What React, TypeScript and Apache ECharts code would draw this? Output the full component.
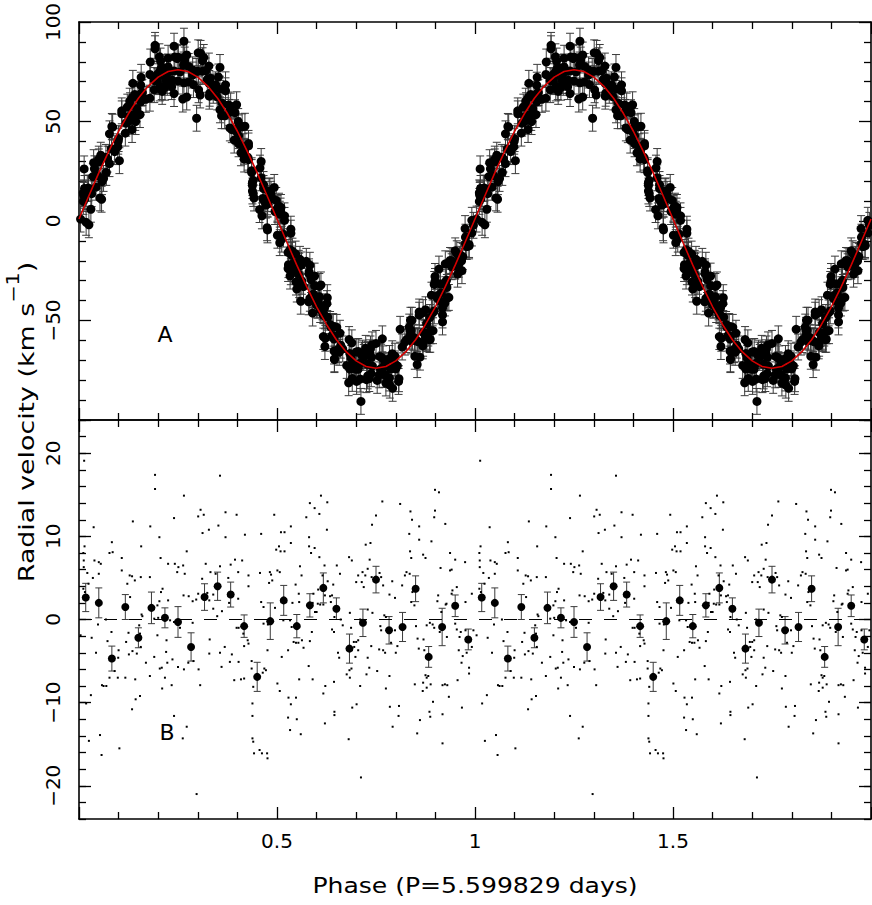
import React, { useEffect, useRef } from "react";
import * as echarts from "echarts";

// ---------------- data ----------------
// Orbital model curve (km/s), sampled every 0.025 in phase over one cycle
const modelStep = 0.025;
const modelVelocity = [
  1.0, 12.7, 24.2, 35.0, 45.1, 54.0, 61.7, 67.8, 72.3, 75.1, 76.0,
  75.1, 72.3, 67.8, 61.7, 54.0, 45.1, 35.0, 24.2, 12.7, 1.0,
  -10.7, -22.2, -33.0, -43.1, -52.0, -59.7, -65.8, -70.3, -73.1, -74.0,
  -73.1, -70.3, -65.8, -59.7, -52.0, -43.1, -33.0, -22.2, -10.7, 1.0,
];
const velocityError = 6.5;

// Observations: [phase, residual (km/s)]
const residuals: [number, number][] = [
  [0.013,19.1],[0.192,17.4],[0.192,15.7],[0.24,12.2],[0.136,11.8],[0.037,11.1],[0.18,11.2],[0.203,9.9],[0.083,9.3],[0.077,8.0],
  [0.085,8.1],[0.014,8.8],[0.011,8.0],[0.157,8.8],[0.108,7.4],[0.206,7.4],[0.012,7.1],[0.039,7.1],[0.05,6.9],[0.055,6.7],
  [0.225,6.7],[0.242,6.7],[0.012,6.3],[0.021,5.6],[0.05,5.5],[0.108,5.9],[0.128,5.3],[0.134,5.2],[0.141,4.7],[0.156,5.1],
  [0.179,5.1],[0.035,5.0],[0.024,4.3],[0.011,3.7],[0.015,3.3],[0.122,4.3],[0.129,2.7],[0.211,3.7],[0.207,3.3],[0.203,2.2],
  [0.198,1.7],[0.158,0.6],[0.16,0.4],[0.225,2.3],[0.19,0.1],[0.2,0.2],[0.221,0.3],[0.23,-0.1],[0.24,-0.3],[0.068,0.0],
  [0.048,-0.6],[0.082,-1.5],[0.032,-2.2],[0.125,-1.6],[0.119,-2.7],[0.152,-0.7],[0.154,-1.7],[0.198,-1.9],[0.221,-2.5],[0.043,-4.0],
  [0.072,-2.6],[0.1,-3.7],[0.099,-4.6],[0.126,-4.2],[0.135,-3.8],[0.146,-4.1],[0.156,-3.3],[0.169,-5.2],[0.19,-4.5],[0.204,-5.9],
  [0.209,-5.8],[0.22,-3.9],[0.223,-5.2],[0.236,-4.8],[0.09,-6.2],[0.077,-7.0],[0.069,-8.0],[0.062,-8.0],[0.058,-7.9],[0.098,-7.0],
  [0.117,-7.0],[0.142,-7.2],[0.179,-6.8],[0.217,-7.0],[0.21,-8.3],[0.234,-7.9],[0.03,-9.1],[0.018,-10.1],[0.154,-9.2],[0.143,-9.6],
  [0.134,-10.8],[0.24,-11.6],[0.053,-13.9],[0.025,-14.6],[0.057,-16.3],[0.102,-15.5],
  [0.356,17.3],[0.265,14.9],[0.307,13.2],[0.301,12.4],[0.315,12.6],[0.37,12.9],[0.398,12.6],[0.352,11.3],[0.328,10.8],[0.312,10.4],
  [0.37,9.9],[0.419,10.2],[0.46,10.3],[0.493,12.6],[0.272,8.2],[0.251,6.3],[0.263,6.5],[0.248,5.7],[0.267,5.5],[0.32,6.7],
  [0.356,6.4],[0.383,6.6],[0.394,7.2],[0.412,7.1],[0.332,5.7],[0.345,5.5],[0.377,5.0],[0.402,5.7],[0.428,5.3],[0.457,5.6],
  [0.482,5.7],[0.485,5.4],[0.48,4.4],[0.488,4.7],[0.311,4.9],[0.301,3.1],[0.324,3.2],[0.339,3.0],[0.329,2.3],[0.339,1.3],
  [0.361,1.0],[0.349,0.4],[0.379,2.0],[0.402,2.5],[0.428,4.0],[0.46,2.1],[0.466,1.5],[0.264,2.9],[0.277,2.8],[0.287,2.2],
  [0.296,2.4],[0.255,-1.0],[0.287,-0.4],[0.398,-1.0],[0.403,-1.0],[0.415,-1.7],[0.426,-2.5],[0.428,-2.9],[0.417,-3.2],[0.466,-0.5],
  [0.477,-0.6],[0.33,-2.4],[0.368,-3.3],[0.356,-4.0],[0.329,-4.1],[0.386,-4.2],[0.403,-5.1],[0.381,-5.1],[0.476,-3.7],[0.25,-5.7],
  [0.265,-6.0],[0.276,-5.2],[0.289,-5.0],[0.302,-6.0],[0.306,-7.9],[0.36,-5.7],[0.392,-7.3],[0.409,-7.2],[0.417,-7.1],[0.436,-5.9],
  [0.436,-5.0],[0.468,-5.9],[0.472,-6.1],[0.464,-6.4],[0.44,-8.1],[0.438,-10.1],[0.438,-11.6],[0.438,-14.3],[0.44,-14.7],[0.442,-16.1],
  [0.456,-15.7],[0.462,-16.1],[0.475,-16.1],[0.476,-16.7],[0.272,-12.9],[0.262,-14.3],[0.297,-21.0],
  [0.611,14.9],[0.583,14.0],[0.627,14.1],[0.595,13.4],[0.607,12.7],[0.574,12.3],[0.535,11.2],[0.626,10.8],[0.51,10.5],[0.519,10.5],
  [0.581,9.9],[0.535,9.2],[0.498,8.4],[0.505,8.8],[0.519,8.2],[0.509,8.2],[0.581,8.8],[0.595,8.6],[0.586,8.0],[0.607,7.5],
  [0.62,6.5],[0.651,6.5],[0.659,5.5],[0.682,7.5],[0.689,7.1],[0.74,11.4],[0.736,9.2],[0.724,9.0],[0.734,7.2],[0.729,6.1],
  [0.739,5.1],[0.723,5.3],[0.714,4.5],[0.7,4.5],[0.705,5.3],[0.716,5.7],[0.719,3.9],[0.501,5.9],[0.507,5.7],[0.495,1.4],
  [0.516,-0.1],[0.533,-0.1],[0.547,4.2],[0.558,6.4],[0.562,5.3],[0.555,3.1],[0.556,2.1],[0.539,2.0],[0.528,-3.7],[0.512,-4.5],
  [0.501,-7.7],[0.507,-8.6],[0.537,-0.9],[0.542,-2.7],[0.548,-2.8],[0.554,-2.8],[0.563,-2.5],[0.567,-3.4],[0.556,-7.2],[0.529,-9.4],
  [0.548,-9.4],[0.535,-10.2],[0.528,-11.8],[0.55,-12.0],[0.533,-13.3],[0.56,-13.8],[0.59,-7.2],[0.58,-5.6],[0.583,-2.6],[0.588,-1.5],
  [0.6,0.9],[0.59,2.0],[0.592,3.1],[0.609,1.8],[0.603,1.9],[0.596,0.9],[0.617,1.8],[0.604,3.6],[0.615,5.3],[0.628,4.6],
  [0.642,4.2],[0.639,2.9],[0.636,2.1],[0.621,2.9],[0.634,2.8],[0.639,-1.2],[0.644,-1.5],[0.654,-4.0],[0.657,-4.6],[0.644,-7.5],
  [0.645,-11.1],[0.645,-11.5],[0.617,-8.9],[0.621,-12.5],[0.622,-8.0],[0.681,-14.4],[0.676,-6.6],[0.684,-7.0],[0.683,-6.1],[0.688,-5.9],
  [0.666,-0.7],[0.687,-1.0],[0.7,-2.7],[0.705,-2.5],[0.694,-2.7],[0.71,-8.0],[0.701,-10.2],[0.69,-10.6],[0.712,-19.0],[0.726,-6.6],
  [0.733,-5.8],[0.738,-3.2],[0.729,-4.6],[0.698,-4.5],[0.695,-3.3],[0.705,-3.7],[0.741,0.8],[0.729,1.2],[0.71,0.0],[0.684,0.8],
  [0.661,0.0],[0.645,0.3],
  [0.899,15.6],[0.909,15.3],[0.766,14.2],[0.811,13.9],[0.75,12.5],[0.837,13.0],[0.899,13.1],[0.897,12.3],[0.841,12.0],[0.859,11.2],
  [0.925,11.5],[0.834,10.3],[0.859,9.6],[0.89,9.4],[0.937,8.0],[0.95,7.2],[0.975,6.9],[0.937,5.9],[0.941,6.0],[0.913,6.2],
  [0.869,7.8],[0.875,7.4],[0.836,8.2],[0.839,7.4],[0.759,5.6],[0.763,5.1],[0.791,4.6],[0.768,4.1],[0.827,5.7],[0.823,5.3],
  [0.835,5.5],[0.816,4.1],[0.798,2.6],[0.784,3.0],[0.842,3.3],[0.847,1.7],[0.839,2.1],[0.907,2.9],[0.905,2.2],[0.886,-0.4],
  [0.893,-0.6],[0.878,-0.7],[0.897,-1.0],[0.943,3.5],[0.954,3.9],[0.941,3.1],[0.976,2.1],[0.992,3.1],[0.771,0.5],[0.775,0.3],
  [0.761,-0.8],[0.763,-1.3],[0.798,-1.3],[0.788,-2.8],[0.804,-3.2],[0.8,-4.0],[0.753,-6.2],[0.758,-3.6],[0.768,-3.7],[0.773,-4.0],
  [0.851,-0.8],[0.855,-2.3],[0.87,-2.4],[0.872,-3.7],[0.858,-3.5],[0.848,-7.8],[0.869,-7.6],[0.868,-8.6],[0.878,-8.2],[0.888,-7.8],
  [0.878,-7.0],[0.875,-6.7],[0.882,-6.8],[0.894,-9.9],[0.885,-11.1],[0.887,-11.7],[0.861,-12.1],[0.854,-13.7],[0.918,-14.9],[0.775,-8.3],
  [0.785,-10.5],[0.808,-10.4],[0.807,-11.6],[0.792,-12.9],[0.784,-6.8],[0.918,-7.9],[0.918,-11.4],[0.934,-9.3],[0.924,-7.8],[0.93,-7.9],
  [0.911,-1.5],[0.929,-2.1],[0.95,-0.5],[0.954,-1.2],[0.964,-1.5],[0.976,-1.3],[0.961,-2.1],[0.959,-3.7],[0.969,-4.4],[0.966,-5.2],
  [0.956,-7.3],[0.979,-4.0],[0.985,-5.8],[0.985,-6.5],[0.967,-10.6],[0.996,-1.3],[0.004,-1.9],[0.992,-3.3],[0.928,1.9],[0.915,0.9],
  [0.926,1.8],
];

// Binned residuals (30 bins per cycle)
const binPhase = [
  0.017, 0.05, 0.083, 0.117, 0.15, 0.183, 0.217, 0.25, 0.283, 0.317,
  0.35, 0.383, 0.417, 0.45, 0.483, 0.517, 0.55, 0.583, 0.617, 0.65,
  0.683, 0.717, 0.75, 0.783, 0.817, 0.85, 0.883, 0.917, 0.95, 0.983,
];
const binMean = [
  2.65, 2.0, -4.7, 1.5, -2.2, 1.4, 0.2, -0.3, -3.3, 2.7,
  4.0, 3.0, -0.8, -6.9, -0.2, 2.3, -0.8, 1.7, 3.8, 1.3,
  -3.5, -0.4, 4.8, -1.3, -0.9, 3.7, -4.5, -0.9, 1.65, -2.4,
];
const binError = [
  1.7, 1.8, 1.5, 1.5, 1.2, 1.9, 1.2, 1.85, 1.7, 1.6,
  1.7, 1.5, 1.35, 1.75, 2.2, 1.8, 1.4, 1.4, 1.8, 1.3,
  1.75, 1.65, 1.6, 1.65, 1.75, 1.55, 1.25, 2.25, 1.3, 1.25,
];

const cycles = [0, 1];
const bottomMajorTicks = [-20, -10, 0, 10, 20];
const xTitle = "Phase (P=5.599829 days)";
const yTitleMain = "Radial velocity (km s";
const yTitleSup = "\u22121";
const panelLabels = ["A", "B"];

// ---------------- helpers ----------------
const FONT = "DejaVu Sans";

function modelAt(phase: number): number {
  const f = phase - Math.floor(phase);
  const pos = f / modelStep;
  const i = Math.min(Math.floor(pos), modelVelocity.length - 2);
  const t = pos - i;
  return modelVelocity[i] * (1 - t) + modelVelocity[i + 1] * t;
}

const fmtNum = (v: number) => (v < 0 ? "\u2212" + Math.abs(v) : String(v));

const axisLineStyle = { color: "#000", width: 1.6 };
const tickStyle = { color: "#000", width: 1.3 };

function xAxisDef(gridIndex: number, position: string, labels: boolean) {
  return {
    type: "value",
    gridIndex,
    position,
    min: 0,
    max: 2,
    interval: 0.5,
    axisLine: { show: true, onZero: false, lineStyle: axisLineStyle },
    axisTick: { show: true, inside: true, length: 12, lineStyle: tickStyle },
    minorTick: { show: true, splitNumber: 5, length: 7, lineStyle: tickStyle },
    splitLine: { show: false },
    minorSplitLine: { show: false },
    axisLabel: {
      show: labels,
      showMinLabel: false,
      showMaxLabel: false,
      margin: 12,
      color: "#000",
      fontFamily: FONT,
      fontSize: 20,
      formatter: (v: number) => String(v),
    },
  };
}

function errorBarRender(capHalf: number, color: string) {
  return (params: any, api: any) => {
    const x = api.value(0);
    const y = api.value(1);
    const e = api.value(2);
    const hi = api.coord([x, y + e]);
    const lo = api.coord([x, y - e]);
    const style = { stroke: color, lineWidth: 1 };
    return {
      type: "group",
      children: [
        { type: "line", shape: { x1: hi[0], y1: hi[1], x2: lo[0], y2: lo[1] }, style },
        { type: "line", shape: { x1: hi[0] - capHalf, y1: hi[1], x2: hi[0] + capHalf, y2: hi[1] }, style },
        { type: "line", shape: { x1: lo[0] - capHalf, y1: lo[1], x2: lo[0] + capHalf, y2: lo[1] }, style },
      ],
    };
  };
}

export default function App() {
  const ref = useRef<HTMLDivElement | null>(null);

  useEffect(() => {
    document.body.style.margin = "0";
    if (!ref.current) return;
    const chart = echarts.init(ref.current, null, { renderer: "svg" });

    const topPts: number[][] = [];
    const resPts: number[][] = [];
    cycles.forEach((c) => {
      residuals.forEach(([p, r]) => {
        topPts.push([p + c, modelAt(p) + r, velocityError]);
        resPts.push([p + c, r]);
      });
    });
    const modelLine: number[][] = [];
    cycles.forEach((c) => {
      modelVelocity.forEach((v, i) => {
        if (c > 0 && i === 0) return;
        modelLine.push([c + i * modelStep, v]);
      });
    });
    const binPts: number[][] = [];
    cycles.forEach((c) => {
      binPhase.forEach((p, i) => binPts.push([p + c, binMean[i], binError[i]]));
    });

    const yLabelCommon = {
      color: "#000",
      fontFamily: FONT,
      fontSize: 20,
      rotate: 90,
      margin: 16,
      formatter: fmtNum,
    };

    const option: any = {
      animation: false,
      backgroundColor: "#fff",
      grid: [
        { left: 79, top: 22, width: 792, height: 398, containLabel: false, outerBoundsMode: "none" },
        { left: 79, top: 420, width: 792, height: 399, containLabel: false, outerBoundsMode: "none" },
      ],
      xAxis: [
        xAxisDef(0, "bottom", false),
        xAxisDef(0, "top", false),
        xAxisDef(1, "bottom", true),
        xAxisDef(1, "top", false),
      ],
      yAxis: [
        {
          type: "value", gridIndex: 0, position: "left", min: -100, max: 100, interval: 50,
          axisLine: { show: true, onZero: false, lineStyle: axisLineStyle },
          axisTick: { show: true, inside: true, length: 12, lineStyle: tickStyle },
          minorTick: { show: true, splitNumber: 5, length: 7, lineStyle: tickStyle },
          splitLine: { show: false },
          axisLabel: { ...yLabelCommon, showMinLabel: false, showMaxLabel: true },
        },
        {
          type: "value", gridIndex: 0, position: "right", min: -100, max: 100, interval: 50,
          axisLine: { show: true, onZero: false, lineStyle: axisLineStyle },
          axisTick: { show: true, inside: true, length: 12, lineStyle: tickStyle },
          minorTick: { show: true, splitNumber: 5, length: 7, lineStyle: tickStyle },
          splitLine: { show: false },
          axisLabel: { show: false },
        },
        {
          type: "value", gridIndex: 1, position: "left", min: -24, max: 24,
          axisLine: { show: true, onZero: false, lineStyle: axisLineStyle },
          axisTick: { show: true, inside: true, length: 12, lineStyle: tickStyle, customValues: bottomMajorTicks },
          splitLine: { show: false },
          axisLabel: { ...yLabelCommon, customValues: bottomMajorTicks },
        },
        {
          type: "value", gridIndex: 1, position: "left", min: -24, max: 24, interval: 2,
          axisLine: { show: false, onZero: false },
          axisTick: { show: true, inside: true, length: 7, lineStyle: tickStyle },
          splitLine: { show: false },
          axisLabel: { show: false },
        },
        {
          type: "value", gridIndex: 1, position: "right", min: -24, max: 24,
          axisLine: { show: true, onZero: false, lineStyle: axisLineStyle },
          axisTick: { show: true, inside: true, length: 12, lineStyle: tickStyle, customValues: bottomMajorTicks },
          splitLine: { show: false },
          axisLabel: { show: false },
        },
        {
          type: "value", gridIndex: 1, position: "right", min: -24, max: 24, interval: 2,
          axisLine: { show: false, onZero: false },
          axisTick: { show: true, inside: true, length: 7, lineStyle: tickStyle },
          splitLine: { show: false },
          axisLabel: { show: false },
        },
      ],
      series: [
        {
          type: "custom",
          xAxisIndex: 0,
          yAxisIndex: 0,
          clip: true,
          data: topPts,
          encode: { x: 0, y: 1 },
          renderItem: errorBarRender(4, "#3a3a3a"),
          silent: true,
        },
        {
          type: "scatter",
          xAxisIndex: 0,
          yAxisIndex: 0,
          data: topPts.map((d) => [d[0], d[1]]),
          symbol: "circle",
          symbolSize: 9,
          itemStyle: { color: "#000", opacity: 1 },
          clip: true,
          silent: true,
        },
        {
          type: "line",
          xAxisIndex: 0,
          yAxisIndex: 0,
          data: modelLine,
          showSymbol: false,
          symbol: "none",
          smooth: false,
          lineStyle: { color: "#d40000", width: 1.6 },
          silent: true,
        },
        {
          type: "line",
          xAxisIndex: 2,
          yAxisIndex: 2,
          data: [[0, 0], [2, 0]],
          showSymbol: false,
          symbol: "none",
          lineStyle: { color: "#000", width: 1, type: [13, 12] },
          silent: true,
        },
        {
          type: "scatter",
          xAxisIndex: 2,
          yAxisIndex: 2,
          data: resPts,
          symbol: "rect",
          symbolSize: 2,
          itemStyle: { color: "#000", opacity: 1 },
          silent: true,
        },
        {
          type: "custom",
          xAxisIndex: 2,
          yAxisIndex: 2,
          clip: true,
          data: binPts,
          encode: { x: 0, y: 1 },
          renderItem: errorBarRender(3.5, "#3a3a3a"),
          silent: true,
        },
        {
          type: "scatter",
          xAxisIndex: 2,
          yAxisIndex: 2,
          data: binPts.map((d) => [d[0], d[1]]),
          symbol: "circle",
          symbolSize: 8,
          itemStyle: { color: "#000", opacity: 1 },
          silent: true,
        },
      ],
      graphic: [
        {
          type: "text",
          x: 475,
          y: 886,
          scaleX: 1.14,
          style: {
            text: xTitle,
            fill: "#000",
            font: `22px "${FONT}"`,
            align: "center",
            verticalAlign: "middle",
          },
        },
        {
          type: "text",
          x: 26,
          y: 422,
          rotation: Math.PI / 2,
          scaleX: 1.22,
          style: {
            text: `{n|${yTitleMain}}{s|${yTitleSup}}{n|)}`,
            fill: "#000",
            align: "center",
            verticalAlign: "middle",
            rich: {
              n: { fontFamily: FONT, fontSize: 22, lineHeight: 44, fill: "#000" },
              s: { fontFamily: FONT, fontSize: 17, lineHeight: 17, verticalAlign: "top", fill: "#000" },
            },
          },
        },
        {
          type: "text",
          x: 165,
          y: 334,
          style: { text: panelLabels[0], fill: "#000", font: `22px "${FONT}"`, align: "center", verticalAlign: "middle" },
        },
        {
          type: "text",
          x: 167,
          y: 732,
          style: { text: panelLabels[1], fill: "#000", font: `22px "${FONT}"`, align: "center", verticalAlign: "middle" },
        },
      ],
    };

    chart.setOption(option);
    return () => chart.dispose();
  }, []);

  return <div ref={ref} style={{ width: 872, height: 905 }} />;
}
